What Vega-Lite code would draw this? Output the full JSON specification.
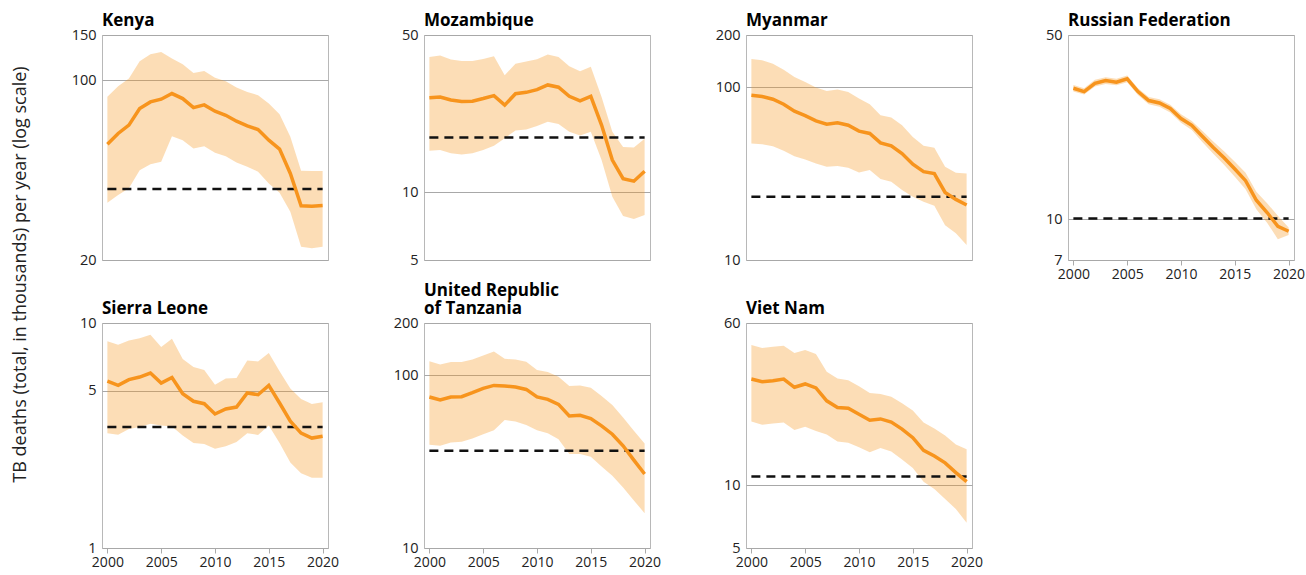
{
  "$schema": "https://vega.github.io/schema/vega-lite/v6.json",
  "padding": {"left": 10, "top": 11, "right": 5, "bottom": 5},
  "datasets": {
    "tb": [
      {"c":"Kenya","y":2000,"b":56.4,"l":33.4,"h":86.2,"t":37.8},
      {"c":"Kenya","y":2001,"b":62.1,"l":35.8,"h":94.8,"t":37.8},
      {"c":"Kenya","y":2002,"b":66.9,"l":38.0,"h":101.5,"t":37.8},
      {"c":"Kenya","y":2003,"b":77.6,"l":44.7,"h":118.5,"t":37.8},
      {"c":"Kenya","y":2004,"b":82.4,"l":47.1,"h":126.2,"t":37.8},
      {"c":"Kenya","y":2005,"b":84.4,"l":48.2,"h":128.9,"t":37.8},
      {"c":"Kenya","y":2006,"b":88.8,"l":60.6,"h":121.4,"t":37.8},
      {"c":"Kenya","y":2007,"b":84.9,"l":58.5,"h":115.4,"t":37.8},
      {"c":"Kenya","y":2008,"b":78.3,"l":54.3,"h":106.8,"t":37.8},
      {"c":"Kenya","y":2009,"b":80.2,"l":55.4,"h":108.7,"t":37.8},
      {"c":"Kenya","y":2010,"b":75.8,"l":52.2,"h":102.4,"t":37.8},
      {"c":"Kenya","y":2011,"b":73.1,"l":50.7,"h":99.1,"t":37.8},
      {"c":"Kenya","y":2012,"b":69.3,"l":47.9,"h":93.7,"t":37.8},
      {"c":"Kenya","y":2013,"b":66.5,"l":46.1,"h":90.1,"t":37.8},
      {"c":"Kenya","y":2014,"b":64.3,"l":44.1,"h":87.5,"t":37.8},
      {"c":"Kenya","y":2015,"b":58.5,"l":39.7,"h":81.2,"t":37.8},
      {"c":"Kenya","y":2016,"b":54.0,"l":36.5,"h":73.8,"t":37.8},
      {"c":"Kenya","y":2017,"b":43.4,"l":30.8,"h":60.3,"t":37.8},
      {"c":"Kenya","y":2018,"b":32.5,"l":22.5,"h":44.5,"t":37.8},
      {"c":"Kenya","y":2019,"b":32.4,"l":22.2,"h":44.4,"t":37.8},
      {"c":"Kenya","y":2020,"b":32.6,"l":22.5,"h":44.4,"t":37.8},
      {"c":"Mozambique","y":2000,"b":26.3,"l":15.3,"h":39.9,"t":17.5},
      {"c":"Mozambique","y":2001,"b":26.5,"l":15.4,"h":40.5,"t":17.5},
      {"c":"Mozambique","y":2002,"b":25.7,"l":14.9,"h":38.9,"t":17.5},
      {"c":"Mozambique","y":2003,"b":25.3,"l":14.7,"h":38.3,"t":17.5},
      {"c":"Mozambique","y":2004,"b":25.4,"l":14.9,"h":38.3,"t":17.5},
      {"c":"Mozambique","y":2005,"b":26.1,"l":15.4,"h":39.1,"t":17.5},
      {"c":"Mozambique","y":2006,"b":26.9,"l":16.1,"h":40.2,"t":17.5},
      {"c":"Mozambique","y":2007,"b":24.4,"l":17.4,"h":33.1,"t":17.5},
      {"c":"Mozambique","y":2008,"b":27.4,"l":18.8,"h":37.3,"t":17.5},
      {"c":"Mozambique","y":2009,"b":27.8,"l":19.0,"h":38.1,"t":17.5},
      {"c":"Mozambique","y":2010,"b":28.6,"l":19.7,"h":39.0,"t":17.5},
      {"c":"Mozambique","y":2011,"b":30.0,"l":20.6,"h":41.0,"t":17.5},
      {"c":"Mozambique","y":2012,"b":29.3,"l":20.1,"h":39.9,"t":17.5},
      {"c":"Mozambique","y":2013,"b":26.7,"l":18.6,"h":36.3,"t":17.5},
      {"c":"Mozambique","y":2014,"b":25.5,"l":17.9,"h":34.5,"t":17.5},
      {"c":"Mozambique","y":2015,"b":26.7,"l":18.6,"h":36.1,"t":17.5},
      {"c":"Mozambique","y":2016,"b":19.9,"l":13.9,"h":26.5,"t":17.5},
      {"c":"Mozambique","y":2017,"b":13.9,"l":9.55,"h":18.6,"t":17.5},
      {"c":"Mozambique","y":2018,"b":11.5,"l":7.84,"h":15.9,"t":17.5},
      {"c":"Mozambique","y":2019,"b":11.2,"l":7.60,"h":15.8,"t":17.5},
      {"c":"Mozambique","y":2020,"b":12.4,"l":7.92,"h":17.3,"t":17.5},
      {"c":"Myanmar","y":2000,"b":89.7,"l":47.2,"h":145.4,"t":23.2},
      {"c":"Myanmar","y":2001,"b":88.1,"l":46.7,"h":142.8,"t":23.2},
      {"c":"Myanmar","y":2002,"b":85.0,"l":45.5,"h":136.6,"t":23.2},
      {"c":"Myanmar","y":2003,"b":79.6,"l":42.8,"h":126.1,"t":23.2},
      {"c":"Myanmar","y":2004,"b":72.5,"l":39.8,"h":114.4,"t":23.2},
      {"c":"Myanmar","y":2005,"b":68.4,"l":38.1,"h":107.1,"t":23.2},
      {"c":"Myanmar","y":2006,"b":63.7,"l":36.1,"h":99.3,"t":23.2},
      {"c":"Myanmar","y":2007,"b":61.0,"l":34.6,"h":95.0,"t":23.2},
      {"c":"Myanmar","y":2008,"b":62.1,"l":34.9,"h":96.7,"t":23.2},
      {"c":"Myanmar","y":2009,"b":60.2,"l":34.1,"h":93.7,"t":23.2},
      {"c":"Myanmar","y":2010,"b":55.6,"l":32.1,"h":85.8,"t":23.2},
      {"c":"Myanmar","y":2011,"b":53.9,"l":33.1,"h":79.6,"t":23.2},
      {"c":"Myanmar","y":2012,"b":47.6,"l":29.4,"h":68.7,"t":23.2},
      {"c":"Myanmar","y":2013,"b":45.7,"l":28.3,"h":66.6,"t":23.2},
      {"c":"Myanmar","y":2014,"b":41.3,"l":25.4,"h":60.2,"t":23.2},
      {"c":"Myanmar","y":2015,"b":35.8,"l":23.2,"h":51.5,"t":23.2},
      {"c":"Myanmar","y":2016,"b":32.4,"l":21.7,"h":45.7,"t":23.2},
      {"c":"Myanmar","y":2017,"b":31.6,"l":20.6,"h":44.5,"t":23.2},
      {"c":"Myanmar","y":2018,"b":24.6,"l":15.9,"h":34.6,"t":23.2},
      {"c":"Myanmar","y":2019,"b":22.4,"l":14.3,"h":31.9,"t":23.2},
      {"c":"Myanmar","y":2020,"b":20.8,"l":12.2,"h":31.6,"t":23.2},
      {"c":"Russian Federation","y":2000,"b":31.4,"l":30.5,"h":32.3,"t":10.05},
      {"c":"Russian Federation","y":2001,"b":30.5,"l":29.7,"h":31.4,"t":10.05},
      {"c":"Russian Federation","y":2002,"b":32.8,"l":31.9,"h":33.8,"t":10.05},
      {"c":"Russian Federation","y":2003,"b":33.6,"l":32.6,"h":34.6,"t":10.05},
      {"c":"Russian Federation","y":2004,"b":33.1,"l":32.2,"h":34.1,"t":10.05},
      {"c":"Russian Federation","y":2005,"b":34.1,"l":33.1,"h":35.1,"t":10.05},
      {"c":"Russian Federation","y":2006,"b":30.5,"l":29.6,"h":31.4,"t":10.05},
      {"c":"Russian Federation","y":2007,"b":28.2,"l":27.3,"h":29.1,"t":10.05},
      {"c":"Russian Federation","y":2008,"b":27.6,"l":26.7,"h":28.5,"t":10.05},
      {"c":"Russian Federation","y":2009,"b":26.3,"l":25.4,"h":27.2,"t":10.05},
      {"c":"Russian Federation","y":2010,"b":24.1,"l":23.2,"h":25.0,"t":10.05},
      {"c":"Russian Federation","y":2011,"b":22.7,"l":21.8,"h":23.6,"t":10.05},
      {"c":"Russian Federation","y":2012,"b":20.6,"l":19.6,"h":21.6,"t":10.05},
      {"c":"Russian Federation","y":2013,"b":18.7,"l":17.7,"h":19.7,"t":10.05},
      {"c":"Russian Federation","y":2014,"b":17.1,"l":16.1,"h":18.1,"t":10.05},
      {"c":"Russian Federation","y":2015,"b":15.5,"l":14.5,"h":16.5,"t":10.05},
      {"c":"Russian Federation","y":2016,"b":14.0,"l":13.0,"h":15.0,"t":10.05},
      {"c":"Russian Federation","y":2017,"b":11.8,"l":10.9,"h":12.7,"t":10.05},
      {"c":"Russian Federation","y":2018,"b":10.6,"l":9.7,"h":11.5,"t":10.05},
      {"c":"Russian Federation","y":2019,"b":9.4,"l":8.4,"h":10.3,"t":10.05},
      {"c":"Russian Federation","y":2020,"b":9.0,"l":8.7,"h":9.3,"t":10.05},
      {"c":"Sierra Leone","y":2000,"b":5.51,"l":3.24,"h":8.29,"t":3.45},
      {"c":"Sierra Leone","y":2001,"b":5.28,"l":3.19,"h":8.01,"t":3.45},
      {"c":"Sierra Leone","y":2002,"b":5.60,"l":3.38,"h":8.37,"t":3.45},
      {"c":"Sierra Leone","y":2003,"b":5.75,"l":3.45,"h":8.55,"t":3.45},
      {"c":"Sierra Leone","y":2004,"b":5.99,"l":3.57,"h":8.87,"t":3.45},
      {"c":"Sierra Leone","y":2005,"b":5.41,"l":3.50,"h":7.82,"t":3.45},
      {"c":"Sierra Leone","y":2006,"b":5.73,"l":3.47,"h":8.52,"t":3.45},
      {"c":"Sierra Leone","y":2007,"b":4.85,"l":3.16,"h":6.92,"t":3.45},
      {"c":"Sierra Leone","y":2008,"b":4.49,"l":2.93,"h":6.37,"t":3.45},
      {"c":"Sierra Leone","y":2009,"b":4.38,"l":2.90,"h":6.18,"t":3.45},
      {"c":"Sierra Leone","y":2010,"b":3.94,"l":2.76,"h":5.32,"t":3.45},
      {"c":"Sierra Leone","y":2011,"b":4.15,"l":2.83,"h":5.66,"t":3.45},
      {"c":"Sierra Leone","y":2012,"b":4.23,"l":2.96,"h":5.69,"t":3.45},
      {"c":"Sierra Leone","y":2013,"b":4.89,"l":3.24,"h":6.82,"t":3.45},
      {"c":"Sierra Leone","y":2014,"b":4.80,"l":3.18,"h":6.75,"t":3.45},
      {"c":"Sierra Leone","y":2015,"b":5.28,"l":3.50,"h":7.36,"t":3.45},
      {"c":"Sierra Leone","y":2016,"b":4.41,"l":2.93,"h":6.10,"t":3.45},
      {"c":"Sierra Leone","y":2017,"b":3.66,"l":2.40,"h":5.11,"t":3.45},
      {"c":"Sierra Leone","y":2018,"b":3.24,"l":2.15,"h":4.59,"t":3.45},
      {"c":"Sierra Leone","y":2019,"b":3.08,"l":2.05,"h":4.37,"t":3.45},
      {"c":"Sierra Leone","y":2020,"b":3.14,"l":2.05,"h":4.44,"t":3.45},
      {"c":"Tanzania","y":2000,"b":74.7,"l":39.5,"h":120.3,"t":36.5},
      {"c":"Tanzania","y":2001,"b":71.7,"l":39.0,"h":115.1,"t":36.5},
      {"c":"Tanzania","y":2002,"b":74.7,"l":40.8,"h":118.8,"t":36.5},
      {"c":"Tanzania","y":2003,"b":75.0,"l":41.1,"h":118.8,"t":36.5},
      {"c":"Tanzania","y":2004,"b":79.1,"l":43.0,"h":123.0,"t":36.5},
      {"c":"Tanzania","y":2005,"b":83.8,"l":45.5,"h":129.7,"t":36.5},
      {"c":"Tanzania","y":2006,"b":87.1,"l":48.0,"h":136.8,"t":36.5},
      {"c":"Tanzania","y":2007,"b":86.4,"l":55.0,"h":124.1,"t":36.5},
      {"c":"Tanzania","y":2008,"b":85.2,"l":53.8,"h":123.0,"t":36.5},
      {"c":"Tanzania","y":2009,"b":82.6,"l":51.5,"h":119.3,"t":36.5},
      {"c":"Tanzania","y":2010,"b":74.7,"l":48.0,"h":106.8,"t":36.5},
      {"c":"Tanzania","y":2011,"b":72.4,"l":46.1,"h":104.0,"t":36.5},
      {"c":"Tanzania","y":2012,"b":67.7,"l":42.6,"h":97.7,"t":36.5},
      {"c":"Tanzania","y":2013,"b":58.0,"l":34.9,"h":86.4,"t":36.5},
      {"c":"Tanzania","y":2014,"b":58.5,"l":34.9,"h":87.1,"t":36.5},
      {"c":"Tanzania","y":2015,"b":56.0,"l":33.7,"h":84.5,"t":36.5},
      {"c":"Tanzania","y":2016,"b":50.8,"l":29.6,"h":75.7,"t":36.5},
      {"c":"Tanzania","y":2017,"b":45.5,"l":26.2,"h":67.1,"t":36.5},
      {"c":"Tanzania","y":2018,"b":39.0,"l":22.4,"h":56.8,"t":36.5},
      {"c":"Tanzania","y":2019,"b":32.2,"l":18.8,"h":47.6,"t":36.5},
      {"c":"Tanzania","y":2020,"b":26.8,"l":15.9,"h":40.2,"t":36.5},
      {"c":"Viet Nam","y":2000,"b":32.3,"l":20.2,"h":47.1,"t":11.0},
      {"c":"Viet Nam","y":2001,"b":31.4,"l":19.5,"h":45.5,"t":11.0},
      {"c":"Viet Nam","y":2002,"b":31.7,"l":19.8,"h":46.2,"t":11.0},
      {"c":"Viet Nam","y":2003,"b":32.3,"l":20.0,"h":46.7,"t":11.0},
      {"c":"Viet Nam","y":2004,"b":29.5,"l":18.4,"h":43.1,"t":11.0},
      {"c":"Viet Nam","y":2005,"b":30.6,"l":19.1,"h":44.5,"t":11.0},
      {"c":"Viet Nam","y":2006,"b":29.3,"l":18.2,"h":42.6,"t":11.0},
      {"c":"Viet Nam","y":2007,"b":25.4,"l":17.5,"h":35.0,"t":11.0},
      {"c":"Viet Nam","y":2008,"b":23.6,"l":16.2,"h":32.5,"t":11.0},
      {"c":"Viet Nam","y":2009,"b":23.4,"l":16.0,"h":31.9,"t":11.0},
      {"c":"Viet Nam","y":2010,"b":21.9,"l":15.2,"h":29.8,"t":11.0},
      {"c":"Viet Nam","y":2011,"b":20.5,"l":14.4,"h":27.7,"t":11.0},
      {"c":"Viet Nam","y":2012,"b":20.8,"l":15.1,"h":27.4,"t":11.0},
      {"c":"Viet Nam","y":2013,"b":20.1,"l":14.5,"h":26.6,"t":11.0},
      {"c":"Viet Nam","y":2014,"b":18.6,"l":13.3,"h":24.7,"t":11.0},
      {"c":"Viet Nam","y":2015,"b":16.9,"l":12.1,"h":22.8,"t":11.0},
      {"c":"Viet Nam","y":2016,"b":14.7,"l":10.4,"h":20.0,"t":11.0},
      {"c":"Viet Nam","y":2017,"b":13.8,"l":9.6,"h":18.7,"t":11.0},
      {"c":"Viet Nam","y":2018,"b":12.8,"l":8.6,"h":17.3,"t":11.0},
      {"c":"Viet Nam","y":2019,"b":11.5,"l":7.7,"h":15.7,"t":11.0},
      {"c":"Viet Nam","y":2020,"b":10.4,"l":6.6,"h":14.9,"t":11.0}
    ]
  },
  "columns": 4,
  "bounds": "flush",
  "spacing": {"row": 63, "column": 96},
  "concat": [
    {
      "title": {"text": "Kenya"},
      "width": 226, "height": 225,
      "data": {"name": "tb"},
      "transform": [{"filter": "datum.c === 'Kenya'"}],
      "encoding": {"x": {"field": "y", "type": "quantitative", "scale": {"domain": [1999.5, 2020.5]}, "axis": null}},
      "layer": [
        {"mark": {"type": "area", "color": "#F7941D", "opacity": 0.32}, "encoding": {"y": {"field": "l", "type": "quantitative", "scale": {"type": "log", "domain": [20, 150], "nice": false}, "axis": {"values": [20, 100, 150], "format": "d", "title": "TB deaths (total, in thousands) per year (log scale)", "titleX": -82, "titleY": 239, "titleAngle": -90, "titleAlign": "center", "titleBaseline": "middle", "titleFontSize": 18, "titleFontWeight": "normal", "titleFont": "Open Sans", "titleColor": "#222"}}, "y2": {"field": "h"}}},
        {"mark": {"type": "line", "color": "#111111", "strokeWidth": 2.5, "strokeDash": [9, 6]}, "encoding": {"y": {"field": "t", "type": "quantitative"}}},
        {"mark": {"type": "line", "color": "#F7941D", "strokeWidth": 3.5}, "encoding": {"y": {"field": "b", "type": "quantitative"}}}
      ]
    },
    {
      "title": {"text": "Mozambique"},
      "width": 226, "height": 225,
      "data": {"name": "tb"},
      "transform": [{"filter": "datum.c === 'Mozambique'"}],
      "encoding": {"x": {"field": "y", "type": "quantitative", "scale": {"domain": [1999.5, 2020.5]}, "axis": null}},
      "layer": [
        {"mark": {"type": "area", "color": "#F7941D", "opacity": 0.32}, "encoding": {"y": {"field": "l", "type": "quantitative", "scale": {"type": "log", "domain": [5, 50], "nice": false}, "axis": {"values": [5, 10, 50], "format": "d", "title": null}}, "y2": {"field": "h"}}},
        {"mark": {"type": "line", "color": "#111111", "strokeWidth": 2.5, "strokeDash": [9, 6]}, "encoding": {"y": {"field": "t", "type": "quantitative"}}},
        {"mark": {"type": "line", "color": "#F7941D", "strokeWidth": 3.5}, "encoding": {"y": {"field": "b", "type": "quantitative"}}}
      ]
    },
    {
      "title": {"text": "Myanmar"},
      "width": 226, "height": 225,
      "data": {"name": "tb"},
      "transform": [{"filter": "datum.c === 'Myanmar'"}],
      "encoding": {"x": {"field": "y", "type": "quantitative", "scale": {"domain": [1999.5, 2020.5]}, "axis": null}},
      "layer": [
        {"mark": {"type": "area", "color": "#F7941D", "opacity": 0.32}, "encoding": {"y": {"field": "l", "type": "quantitative", "scale": {"type": "log", "domain": [10, 200], "nice": false}, "axis": {"values": [10, 100, 200], "format": "d", "title": null}}, "y2": {"field": "h"}}},
        {"mark": {"type": "line", "color": "#111111", "strokeWidth": 2.5, "strokeDash": [9, 6]}, "encoding": {"y": {"field": "t", "type": "quantitative"}}},
        {"mark": {"type": "line", "color": "#F7941D", "strokeWidth": 3.5}, "encoding": {"y": {"field": "b", "type": "quantitative"}}}
      ]
    },
    {
      "title": {"text": "Russian Federation"},
      "width": 226, "height": 225,
      "data": {"name": "tb"},
      "transform": [{"filter": "datum.c === 'Russian Federation'"}],
      "encoding": {"x": {"field": "y", "type": "quantitative", "scale": {"domain": [1999.5, 2020.5]}, "axis": {"values": [2000, 2005, 2010, 2015, 2020], "format": "d", "title": null}}},
      "layer": [
        {"mark": {"type": "area", "color": "#F7941D", "opacity": 0.32}, "encoding": {"y": {"field": "l", "type": "quantitative", "scale": {"type": "log", "domain": [7, 50], "nice": false}, "axis": {"values": [7, 10, 50], "format": "d", "title": null}}, "y2": {"field": "h"}}},
        {"mark": {"type": "line", "color": "#111111", "strokeWidth": 2.5, "strokeDash": [9, 6]}, "encoding": {"y": {"field": "t", "type": "quantitative"}}},
        {"mark": {"type": "line", "color": "#F7941D", "strokeWidth": 3.5}, "encoding": {"y": {"field": "b", "type": "quantitative"}}}
      ]
    },
    {
      "title": {"text": "Sierra Leone"},
      "width": 226, "height": 225,
      "data": {"name": "tb"},
      "transform": [{"filter": "datum.c === 'Sierra Leone'"}],
      "encoding": {"x": {"field": "y", "type": "quantitative", "scale": {"domain": [1999.5, 2020.5]}, "axis": {"values": [2000, 2005, 2010, 2015, 2020], "format": "d", "title": null}}},
      "layer": [
        {"mark": {"type": "area", "color": "#F7941D", "opacity": 0.32}, "encoding": {"y": {"field": "l", "type": "quantitative", "scale": {"type": "log", "domain": [1, 10], "nice": false}, "axis": {"values": [1, 5, 10], "format": "d", "title": null}}, "y2": {"field": "h"}}},
        {"mark": {"type": "line", "color": "#111111", "strokeWidth": 2.5, "strokeDash": [9, 6]}, "encoding": {"y": {"field": "t", "type": "quantitative"}}},
        {"mark": {"type": "line", "color": "#F7941D", "strokeWidth": 3.5}, "encoding": {"y": {"field": "b", "type": "quantitative"}}}
      ]
    },
    {
      "title": {"text": ["United Republic", "of Tanzania"]},
      "width": 226, "height": 225,
      "data": {"name": "tb"},
      "transform": [{"filter": "datum.c === 'Tanzania'"}],
      "encoding": {"x": {"field": "y", "type": "quantitative", "scale": {"domain": [1999.5, 2020.5]}, "axis": {"values": [2000, 2005, 2010, 2015, 2020], "format": "d", "title": null}}},
      "layer": [
        {"mark": {"type": "area", "color": "#F7941D", "opacity": 0.32}, "encoding": {"y": {"field": "l", "type": "quantitative", "scale": {"type": "log", "domain": [10, 200], "nice": false}, "axis": {"values": [10, 100, 200], "format": "d", "title": null}}, "y2": {"field": "h"}}},
        {"mark": {"type": "line", "color": "#111111", "strokeWidth": 2.5, "strokeDash": [9, 6]}, "encoding": {"y": {"field": "t", "type": "quantitative"}}},
        {"mark": {"type": "line", "color": "#F7941D", "strokeWidth": 3.5}, "encoding": {"y": {"field": "b", "type": "quantitative"}}}
      ]
    },
    {
      "title": {"text": "Viet Nam"},
      "width": 226, "height": 225,
      "data": {"name": "tb"},
      "transform": [{"filter": "datum.c === 'Viet Nam'"}],
      "encoding": {"x": {"field": "y", "type": "quantitative", "scale": {"domain": [1999.5, 2020.5]}, "axis": {"values": [2000, 2005, 2010, 2015, 2020], "format": "d", "title": null}}},
      "layer": [
        {"mark": {"type": "area", "color": "#F7941D", "opacity": 0.32}, "encoding": {"y": {"field": "l", "type": "quantitative", "scale": {"type": "log", "domain": [5, 60], "nice": false}, "axis": {"values": [5, 10, 60], "format": "d", "title": null}}, "y2": {"field": "h"}}},
        {"mark": {"type": "line", "color": "#111111", "strokeWidth": 2.5, "strokeDash": [9, 6]}, "encoding": {"y": {"field": "t", "type": "quantitative"}}},
        {"mark": {"type": "line", "color": "#F7941D", "strokeWidth": 3.5}, "encoding": {"y": {"field": "b", "type": "quantitative"}}}
      ]
    }
  ],
  "config": {
    "font": "Open Sans",
    "view": {"stroke": "#b8b8b8", "strokeWidth": 1},
    "axis": {"labelFont": "Open Sans", "labelFontSize": 14.5, "labelColor": "#222222", "domain": false, "gridColor": "#a8a8a8", "gridWidth": 1},
    "axisY": {"grid": true, "ticks": false, "tickSize": 0, "labelPadding": 6},
    "axisX": {"grid": false, "ticks": true, "tickSize": 5, "tickColor": "#aaaaaa", "labelPadding": 2, "labelFlush": false, "labelFontSize": 14},
    "title": {"anchor": "start", "frame": "group", "fontSize": 17, "fontWeight": "bold", "font": "Open Sans", "color": "#000000", "offset": -3, "lineHeight": 18}
  }
}
